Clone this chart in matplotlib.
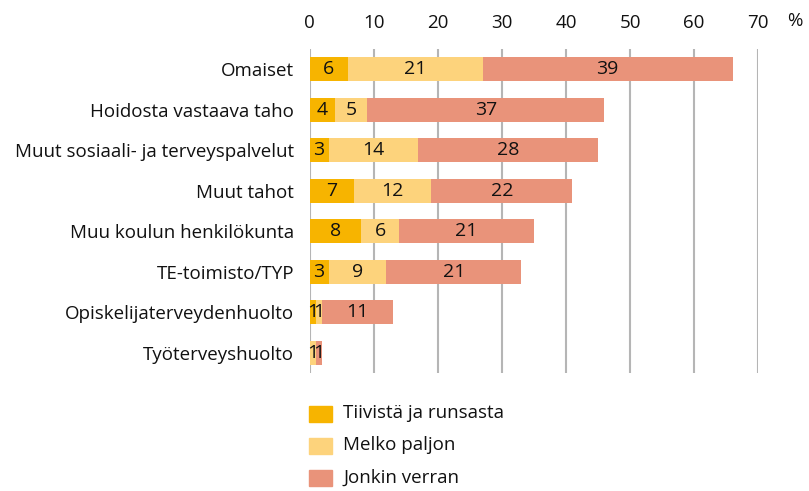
import matplotlib
matplotlib.use("Agg")
import matplotlib.pyplot as plt
import numpy as np

categories = ["Omaiset", "Hoidosta vastaava taho", "Muut sosiaali- ja terveyspalvelut",
              "Muut tahot", "Muu koulun henkilökunta", "TE-toimisto/TYP",
              "Opiskelijaterveydenhuolto", "Työterveyshuolto"]
tiivista = [6, 4, 3, 7, 8, 3, 1, 0]
melko = [21, 5, 14, 12, 6, 9, 1, 1]
jonkin = [39, 37, 28, 22, 21, 21, 11, 1]
series_names = ["Tiivistä ja runsasta", "Melko paljon", "Jonkin verran"]
colors = ["#F7B400", "#FDD37C", "#E9937A"]
ticks = [0, 10, 20, 30, 40, 50, 60, 70]

plt.rcParams['font.family'] = ['Open Sans', 'DejaVu Sans']
FS = 13.5

fig = plt.figure(figsize=(8.09, 4.91), dpi=100)
ax = fig.add_axes([309.5/809, 1-373/491, (758.3-309.5)/809, (373-49)/491])

y = np.arange(len(categories))
left = np.zeros(len(categories))
for vals, col in zip([tiivista, melko, jonkin], colors):
    vals = np.array(vals, dtype=float)
    ax.barh(y, vals, left=left, height=0.6, color=col, zorder=3)
    for yi, l, v in zip(y, left, vals):
        if v > 0:
            ax.text(l + v/2, yi, f"{int(v)}", ha="center", va="center",
                    fontsize=14, color="#111111", zorder=4)
    left += vals

ax.set_xlim(0, 70)
ax.set_ylim(len(categories) - 0.5, -0.5)
ax.set_xticks(ticks)
ax.set_xticklabels([str(t) for t in ticks])
ax.xaxis.tick_top()
ax.tick_params(axis="x", length=0, pad=12.5, labelsize=FS, labelcolor="#111111")
ax.set_yticks(y)
ax.set_yticklabels(categories)
ax.tick_params(axis="y", length=0, pad=11, labelsize=FS, labelcolor="#111111")
ax.grid(axis="x", color="#B5B5B5", linewidth=1.5, zorder=0)
for s in ax.spines.values():
    s.set_visible(False)

fig.text(795/809, 1-21/491, "%", ha="center", va="center", fontsize=FS, color="#111111")

# legend
leg_y = [413.5, 445.5, 478]
for name, col, ly in zip(series_names, colors, leg_y):
    fig.patches.append(plt.Rectangle((309/809, 1-(ly+8)/491), 23/809, 16/491,
                                     transform=fig.transFigure, color=col))
    fig.text(343/809, 1-ly/491, name, ha="left", va="center", fontsize=FS, color="#111111")

fig.savefig("out.png", dpi=100)
